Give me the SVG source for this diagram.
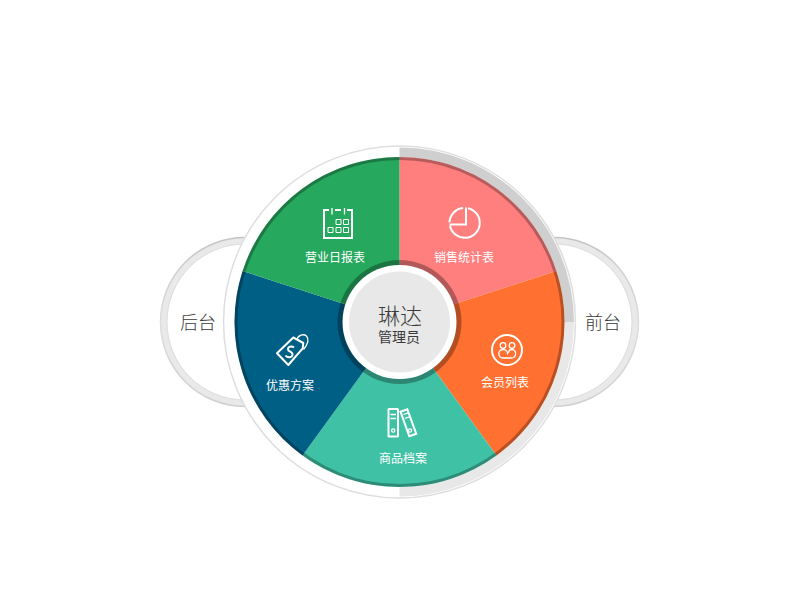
<svg xmlns="http://www.w3.org/2000/svg" width="800" height="600" viewBox="0 0 800 600">
<style>
text{font-family:"Noto Sans CJK SC","Noto Sans",sans-serif;text-anchor:middle}
.lb{font-size:12px;fill:#fff}
.sd{font-size:18px;fill:#3a3a3a;font-weight:300}
.ic{fill:none;stroke:#fff;stroke-width:2}
.th{fill:none;stroke:#fff;stroke-width:1.3}
.sq{fill:none;stroke:#fff;stroke-width:1}
.rim{fill:#e9e9e9;stroke:url(#rg);stroke-width:1.5}
.hole{fill:#fff;stroke:#dcdcdc;stroke-width:1}
</style>
<defs>
<linearGradient id="rg" x1="0" y1="0" x2="0" y2="1">
<stop offset="0" stop-color="#c4c4c4"/><stop offset=".5" stop-color="#dedede"/><stop offset="1" stop-color="#cfcfcf"/>
</linearGradient>
</defs>
<g id="backend">
<circle class="rim" cx="245" cy="322" r="84.500"/>
<circle class="hole" cx="245" cy="322" r="78"/>
<text class="sd" x="198" y="329">后台</text>
</g>
<g id="frontend">
<circle class="rim" cx="554" cy="322" r="84.500"/>
<circle class="hole" cx="554" cy="322" r="78"/>
<text class="sd" x="603" y="329">前台</text>
</g>
<g id="plate">
<circle cx="399.500" cy="322" r="176" fill="#fff" stroke="#dedede" stroke-width="1.500"/>
<path d="M399.500 147.500A174.500 174.500 0 0 1 574 322H564.500A165 165 0 0 0 399.500 157Z" fill="#cfcfcf"/>
<path d="M574 322A174.500 174.500 0 0 1 399.500 496.500V487A165 165 0 0 0 564.500 322Z" fill="#e8e8e8"/>
</g>
<g id="wedge-sales">
<path d="M399.500 322V157A165 165 0 0 1 556.400 271Z" fill="#ff7f7f"/>
</g>
<g id="wedge-members">
<path d="M399.500 322L556.400 271A165 165 0 0 1 496.500 455.500Z" fill="#ff7031"/>
</g>
<g id="wedge-goods">
<path d="M399.500 322L496.500 455.500A165 165 0 0 1 302.500 455.500Z" fill="#3fc1a5"/>
</g>
<g id="wedge-offers">
<path d="M399.500 322L302.500 455.500A165 165 0 0 1 242.600 271Z" fill="#005f84"/>
</g>
<g id="wedge-daily">
<path d="M399.500 322L242.600 271A165 165 0 0 1 399.500 157Z" fill="#27a85f"/>
</g>
<circle cx="399.500" cy="322" r="163.500" fill="none" stroke="#000" stroke-opacity=".28" stroke-width="3"/>
<g id="center">
<circle cx="399.500" cy="322" r="62" fill="#000" fill-opacity=".3"/>
<circle cx="399.500" cy="322" r="57" fill="#fff"/>
<circle cx="399.500" cy="322" r="50.500" fill="#e8e8e8"/>
<text x="400" y="324" font-size="22" fill="#3a3a3a" font-weight="300">琳达</text>
<text x="399" y="342" font-size="14" fill="#3a3a3a">管理员</text>
</g>
<g id="daily">
<path class="ic" d="M329 210H324V238H352V210H347M335 210H341"/>
<path class="th" d="M332 208V214.500M344.500 208V214.500"/>
<path class="sq" d="M336 219.500h5v5h-5zM343.500 219.500h5v5h-5zM328 227.500h5v5h-5zM336 227.500h5v5h-5zM343.500 227.500h5v5h-5z"/>
<text class="lb" x="335" y="262">营业日报表</text>
</g>
<g id="sales">
<path class="ic" d="M468 208.200A15 15 0 1 1 450 225.500"/>
<path class="ic" d="M463 208A15 15 0 0 0 449.500 222.500M449.500 224.500H466V207.500"/>
<text class="lb" x="464" y="262">销售统计表</text>
</g>
<g id="members">
<circle class="ic" cx="507" cy="350" r="15"/>
<circle class="th" cx="503" cy="345.500" r="2.800"/>
<circle class="th" cx="512" cy="345.500" r="2.800"/>
<path class="th" d="M503 349.500C497 349.500 498 358 503 358H511C517 358 517 349.500 512 349.500C510 349.500 508.500 351 508.500 353"/>
<path class="th" d="M503 349.500C506.500 349.500 508 352 507.500 354.500"/>
<text class="lb" x="505" y="387">会员列表</text>
</g>
<g id="goods">
<rect class="ic" x="388.500" y="409" width="9.500" height="27.500" rx=".5"/>
<path class="th" d="M390.500 414.500h5.500M390.500 418.500h5.500"/>
<circle class="th" cx="393.200" cy="430.500" r="1.600"/>
<path class="ic" d="M400.500 411.700L407.300 409.300L416.300 433.800L409.300 436.300Z"/>
<path class="th" d="M403.500 414.500L408.500 412.800M405 418.300L410 416.600"/>
<circle class="th" cx="410" cy="430.500" r="1.600"/>
<text class="lb" x="403" y="463">商品档案</text>
</g>
<g id="offers">
<path class="ic" d="M277 353.300L293.300 337.500L303.300 343L302.700 348.300L288.300 365Z" stroke-linejoin="round"/>
<path class="th" d="M296.700 340C298 335 303.500 333.500 306.500 336C309 339 308 344 303.500 349.500"/>
<path class="ic" d="M294 347.500C291 345 286.500 347.500 288.500 350.500C290 352 293 352 292.500 355C291.500 358 287.500 358 285.500 355.500" stroke-width="1.600"/>
<text class="lb" x="290" y="390">优惠方案</text>
</g>
</svg>
